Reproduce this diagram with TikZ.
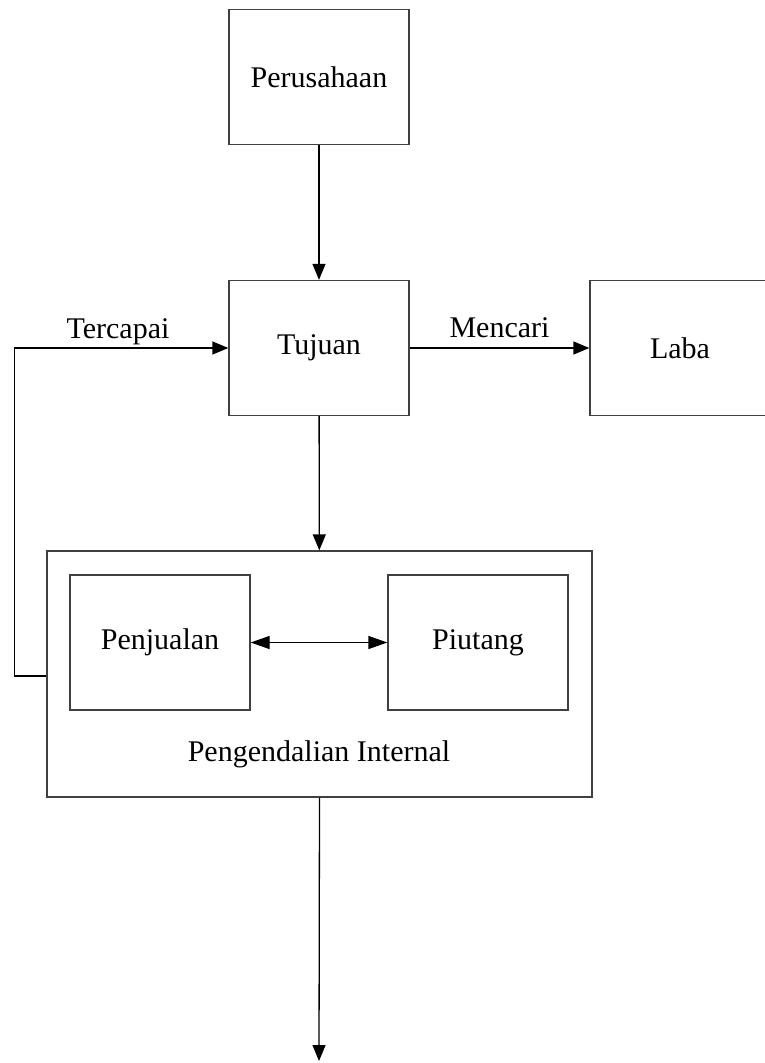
\documentclass[tikz,border=0pt]{standalone}
\usepackage{fontspec}
\setmainfont{Liberation Serif}
\usetikzlibrary{arrows.meta,calc}
\begin{document}
\begin{tikzpicture}[x=1pt,y=-1pt,
  box/.style={draw=black!75,line width=1.3pt,minimum width=180pt,minimum height=135pt,inner sep=0pt,font=\fontsize{30}{36}\selectfont},
  lbl/.style={font=\fontsize{30}{36}\selectfont,inner sep=0pt},
  conn/.style={line width=1.3pt,-{Triangle[length=16pt,width=13pt]}},
  conn2/.style={line width=1.3pt,{Triangle[length=19pt,width=13pt]}-{Triangle[length=19pt,width=13pt]}}]
\useasboundingbox (0,0) rectangle (765,1063);
\node[box] (per) at (319,77) {Perusahaan};
\node[box] (tuj) at (319,348) {Tujuan};
\node[box] (laba) at (680,348) {Laba};
\node[draw=black!75,line width=1.3pt,minimum width=545pt,minimum height=246pt,inner sep=0pt] (big) at (319.5,674) {};
\node[box] (pen) at (160,642.5) {Penjualan};
\node[box] (piu) at (478,642.5) {Piutang};
\node[lbl] (pi) at (319,754) {Pengendalian Internal};
\node[lbl] (tc) at (118,332) {Tercapai};
\coordinate (loop) at ($(big.west)+(0,2)$);
\coordinate (endp) at (319,1061);
\draw[conn] (per) -- (tuj);
\draw[conn] (tuj) -- node[lbl,above=10pt] (mc) {Mencari} (laba);
\draw[conn] (tuj) -- (big);
\draw[conn2] (pen) -- (piu);
\draw[conn] (loop) -- ++(-32,0) |- (tuj.west);
\draw[conn] (big.south) -- (endp);
\end{tikzpicture}
\end{document}
